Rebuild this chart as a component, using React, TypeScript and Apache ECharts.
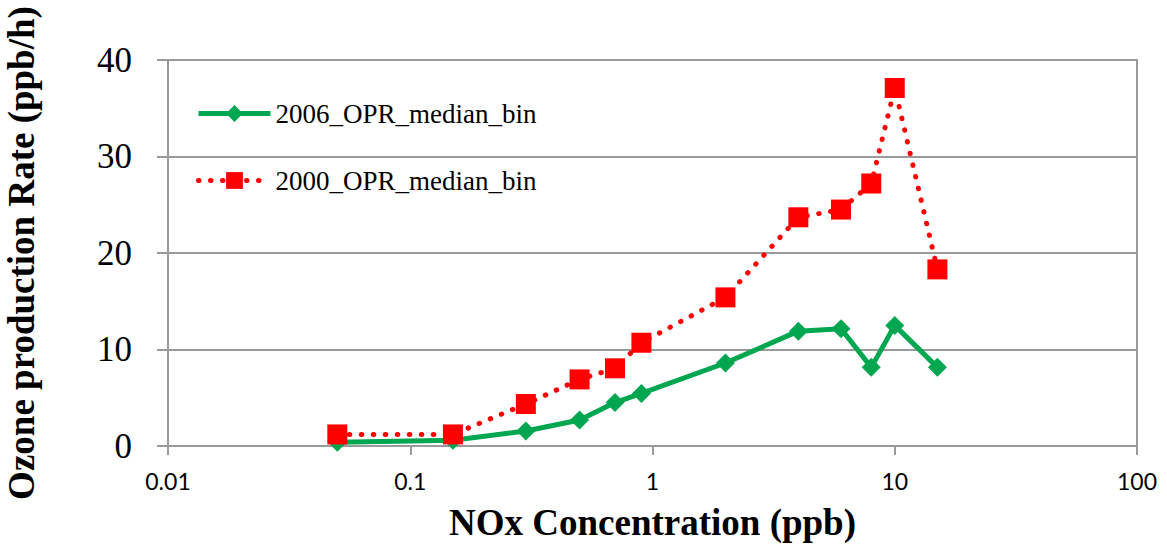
import React, { useEffect, useRef } from "react";
import * as echarts from "echarts";

const nox = [0.05, 0.15, 0.3, 0.5, 0.7, 0.9, 2, 4, 6, 8, 10, 15];
const opr2006 = [0.4, 0.6, 1.55, 2.7, 4.5, 5.45, 8.6, 11.9, 12.15, 8.15, 12.5, 8.15];
const opr2000 = [1.2, 1.2, 4.35, 6.9, 8.05, 10.7, 15.4, 23.7, 24.5, 27.2, 37.1, 18.3];
const seriesNames = ["2006_OPR_median_bin", "2000_OPR_median_bin"];
const xTitle = "NOx Concentration (ppb)";
const yTitle = "Ozone production Rate (ppb/h)";

export default function App() {
  const ref = useRef<HTMLDivElement>(null);
  useEffect(() => {
    if (!ref.current) return;
    const chart = echarts.init(ref.current, undefined, { renderer: "svg" });
    const gray = "#9a9a9a";
    const serif = "Liberation Serif";
    chart.setOption({
      animation: false,
      backgroundColor: "#ffffff",
      grid: {
        left: 168,
        right: 30,
        top: 60,
        bottom: 98,
        containLabel: false,
        outerBoundsMode: "none",
        show: true,
        borderColor: gray,
        borderWidth: 2,
      },
      legend: {
        orient: "vertical",
        left: 191,
        top: 95,
        itemWidth: 72,
        itemHeight: 21,
        itemGap: 40,
        data: [
          { name: seriesNames[0], lineStyle: { width: 5 } },
          { name: seriesNames[1], lineStyle: { width: 5 } },
        ],
        textStyle: { fontFamily: serif, fontSize: 27, color: "#000" },
      },
      xAxis: {
        type: "log",
        logBase: 10,
        min: 0.01,
        max: 100,
        name: xTitle,
        nameLocation: "middle",
        nameGap: 58,
        nameTextStyle: { fontFamily: serif, fontSize: 37, fontWeight: "bold", color: "#000" },
        axisLine: { show: true, lineStyle: { color: gray, width: 2 } },
        axisTick: { show: true, length: 9, lineStyle: { color: gray, width: 2 } },
        minorTick: { show: false },
        splitLine: { show: false },
        axisLabel: {
          margin: 23,
          fontFamily: "Lato",
          fontSize: 23,
          color: "#000",
          formatter: (v: number) => String(Number(Number(v).toPrecision(3))),
        },
      },
      yAxis: {
        type: "value",
        min: 0,
        max: 40,
        interval: 10,
        name: yTitle,
        nameLocation: "middle",
        nameGap: 128,
        nameTextStyle: { fontFamily: serif, fontSize: 37, fontWeight: "bold", color: "#000" },
        axisLine: { show: true, lineStyle: { color: gray, width: 2 } },
        axisTick: { show: true, length: 11, lineStyle: { color: gray, width: 2 } },
        splitLine: { show: true, lineStyle: { color: gray, width: 2 } },
        axisLabel: { margin: 36, fontFamily: serif, fontSize: 35, color: "#000" },
      },
      series: [
        {
          name: seriesNames[0],
          type: "line",
          data: nox.map((x, i) => [x, opr2006[i]]),
          symbol: "diamond",
          symbolSize: 19,
          itemStyle: { color: "#00a650" },
          lineStyle: { color: "#00a650", width: 5 },
          z: 2,
        },
        {
          name: seriesNames[1],
          type: "line",
          data: nox.map((x, i) => [x, opr2000[i]]),
          symbol: "rect",
          symbolSize: 20,
          itemStyle: { color: "#ff0000" },
          lineStyle: { color: "#ff0000", width: 5, type: [0.5, 11.5], cap: "round" },
          z: 3,
        },
      ],
    });
    return () => chart.dispose();
  }, []);
  return (
    <div
      ref={ref}
      style={{ position: "fixed", left: 0, top: 0, width: 1167, height: 544 }}
    />
  );
}
